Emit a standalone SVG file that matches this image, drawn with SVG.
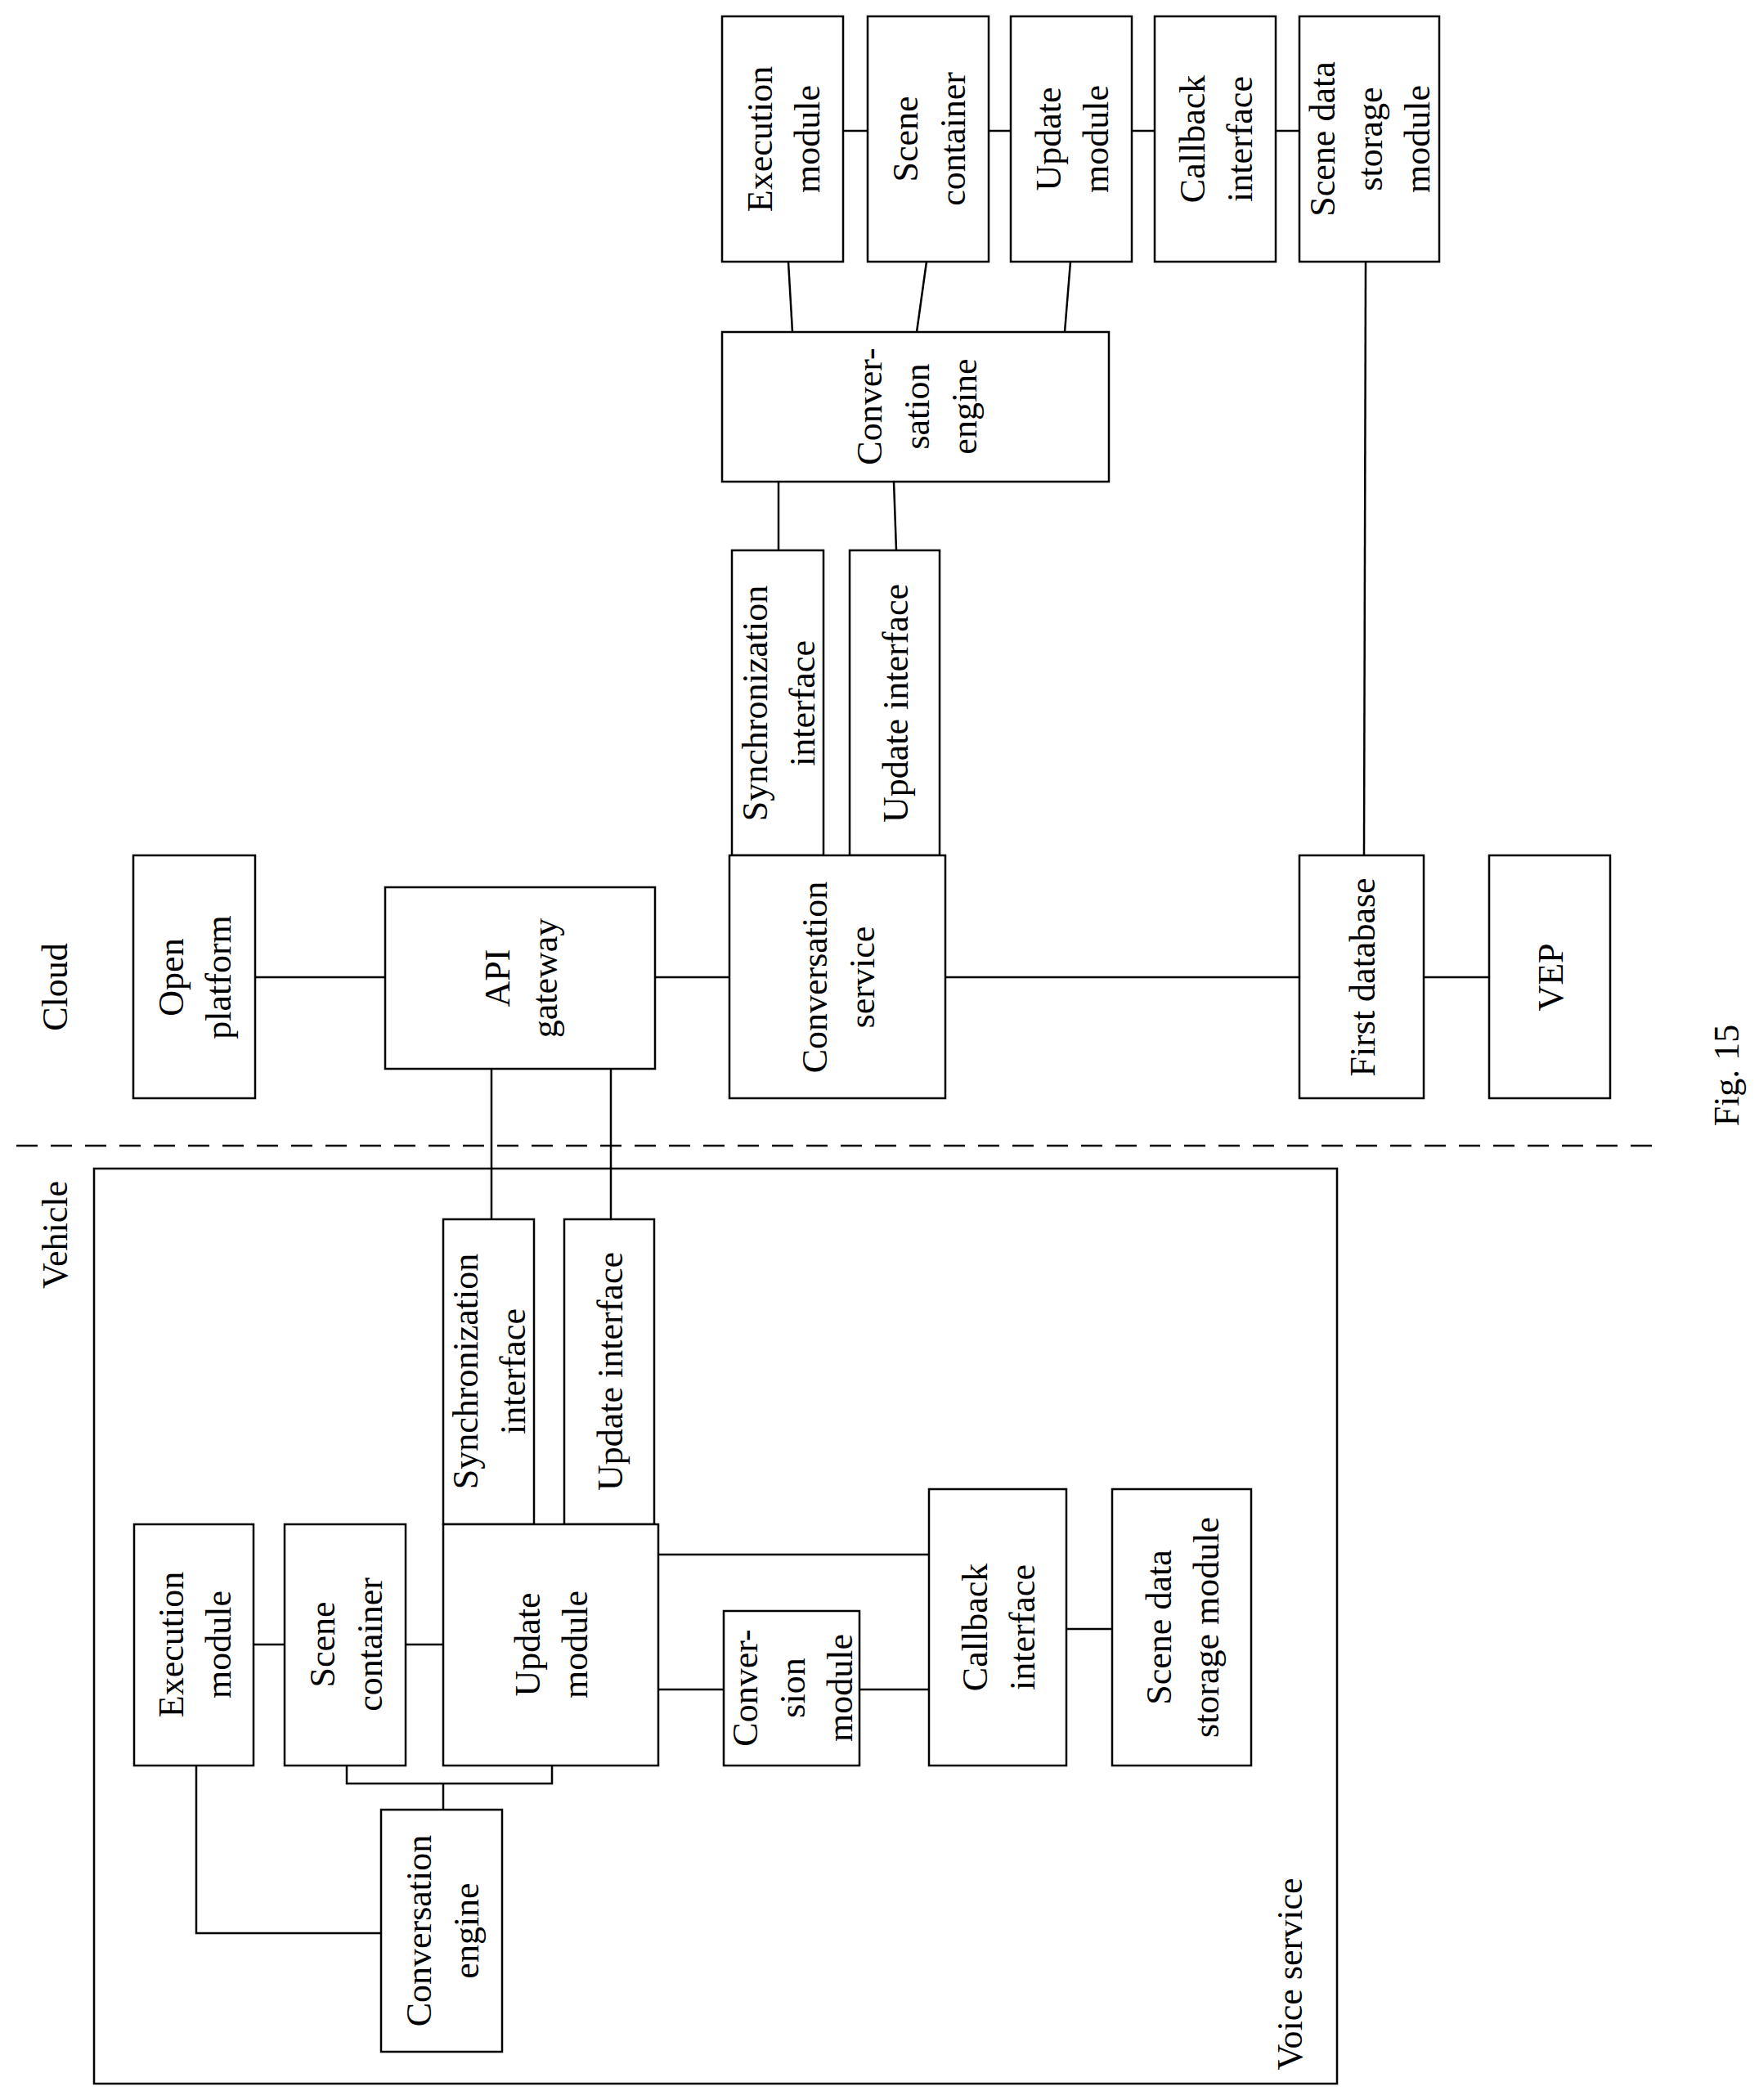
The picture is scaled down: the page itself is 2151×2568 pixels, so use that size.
<svg xmlns="http://www.w3.org/2000/svg" width="2151" height="2568" viewBox="0 0 2151 2568">
<style>
rect{fill:#fff;stroke:#000;stroke-width:2.5}
.c line,.c polyline{stroke:#000;stroke-width:2.5;fill:none}
text{font-family:"Liberation Serif","Times New Roman",serif;font-size:44px;text-anchor:middle;fill:#000}
</style>
<rect x="115" y="1429" width="1520" height="1119"/>
<g class="c">
<line x1="20" y1="1401" x2="2036" y2="1401" stroke-dasharray="26 16"/>
<line x1="1031" y1="160" x2="1061" y2="160"/><line x1="1209" y1="160" x2="1236" y2="160"/><line x1="1384" y1="160" x2="1412" y2="160"/><line x1="1560" y1="160" x2="1589" y2="160"/>
<line x1="964" y1="320" x2="969" y2="406"/><line x1="1133" y1="320" x2="1121" y2="406"/><line x1="1309" y1="320" x2="1302" y2="406"/>
<line x1="952" y1="589" x2="952" y2="673"/><line x1="1093" y1="589" x2="1096" y2="673"/>
<line x1="1670" y1="320" x2="1668" y2="1046"/>
<line x1="312" y1="1195" x2="471" y2="1195"/><line x1="801" y1="1195" x2="892" y2="1195"/><line x1="1156" y1="1195" x2="1589" y2="1195"/><line x1="1741" y1="1195" x2="1821" y2="1195"/>
<line x1="601" y1="1307" x2="601" y2="1491"/><line x1="747" y1="1307" x2="747" y2="1491"/>
<line x1="310" y1="2011" x2="348" y2="2011"/><line x1="496" y1="2011" x2="542" y2="2011"/>
<polyline points="424,2159 424,2181 675,2181 675,2159"/><line x1="542" y1="2181" x2="542" y2="2213"/>
<polyline points="240,2159 240,2364 466,2364"/>
<line x1="805" y1="2066" x2="885" y2="2066"/><line x1="1051" y1="2066" x2="1136" y2="2066"/>
<line x1="805" y1="1901" x2="1136" y2="1901"/><line x1="1304" y1="1992" x2="1360" y2="1992"/>
</g>
<g id="exec-c"><rect x="883" y="20" width="148" height="300"/><text transform="translate(957 170) rotate(-90)"><tspan x="0" y="-13">Execution</tspan><tspan x="0" y="45">module</tspan></text></g>
<g id="scene-c"><rect x="1061" y="20" width="148" height="300"/><text transform="translate(1135 170) rotate(-90)"><tspan x="0" y="-13">Scene</tspan><tspan x="0" y="45">container</tspan></text></g>
<g id="update-c"><rect x="1236" y="20" width="148" height="300"/><text transform="translate(1310 170) rotate(-90)"><tspan x="0" y="-13">Update</tspan><tspan x="0" y="45">module</tspan></text></g>
<g id="callback-c"><rect x="1412" y="20" width="148" height="300"/><text transform="translate(1486 170) rotate(-90)"><tspan x="0" y="-13">Callback</tspan><tspan x="0" y="45">interface</tspan></text></g>
<g id="storage-c"><rect x="1589" y="20" width="171" height="300"/><text transform="translate(1674 170) rotate(-90)"><tspan x="0" y="-42">Scene data</tspan><tspan x="0" y="16">storage</tspan><tspan x="0" y="74">module</tspan></text></g>
<g id="engine-c"><rect x="883" y="406" width="473" height="183"/><text transform="translate(1120 497) rotate(-90)"><tspan x="0" y="-42">Conver-</tspan><tspan x="0" y="16">sation</tspan><tspan x="0" y="74">engine</tspan></text></g>
<g id="sync-c"><rect x="895" y="673" width="112" height="373"/><text transform="translate(951 860) rotate(-90)"><tspan x="0" y="-13">Synchronization</tspan><tspan x="0" y="45">interface</tspan></text></g>
<g id="updif-c"><rect x="1039" y="673" width="110" height="373"/><text transform="translate(1094 860) rotate(-90)" y="16">Update interface</text></g>
<g id="convsvc"><rect x="892" y="1046" width="264" height="297"/><text transform="translate(1024 1195) rotate(-90)"><tspan x="0" y="-13">Conversation</tspan><tspan x="0" y="45">service</tspan></text></g>
<g id="api"><rect x="471" y="1085" width="330" height="222"/><text transform="translate(636 1196) rotate(-90)"><tspan x="0" y="-13">API</tspan><tspan x="0" y="45">gateway</tspan></text></g>
<g id="open"><rect x="163" y="1046" width="149" height="297"/><text transform="translate(237 1195) rotate(-90)"><tspan x="0" y="-13">Open</tspan><tspan x="0" y="45">platform</tspan></text></g>
<g id="firstdb"><rect x="1589" y="1046" width="152" height="297"/><text transform="translate(1665 1195) rotate(-90)" y="16">First database</text></g>
<g id="vep"><rect x="1821" y="1046" width="148" height="297"/><text transform="translate(1895 1195) rotate(-90)" y="16">VEP</text></g>
<text transform="translate(66 1207) rotate(-90)" y="16">Cloud</text>
<text transform="translate(66 1510) rotate(-90)" y="16">Vehicle</text>
<text transform="translate(2110 1315) rotate(-90)" y="16">Fig. 15</text>
<text transform="translate(1576 2414) rotate(-90)" y="16">Voice service</text>
<g id="sync-v"><rect x="542" y="1491" width="111" height="373"/><text transform="translate(597 1677) rotate(-90)"><tspan x="0" y="-13">Synchronization</tspan><tspan x="0" y="45">interface</tspan></text></g>
<g id="updif-v"><rect x="690" y="1491" width="110" height="373"/><text transform="translate(745 1677) rotate(-90)" y="16">Update interface</text></g>
<g id="update-v"><rect x="542" y="1864" width="263" height="295"/><text transform="translate(673 2011) rotate(-90)"><tspan x="0" y="-13">Update</tspan><tspan x="0" y="45">module</tspan></text></g>
<g id="exec-v"><rect x="164" y="1864" width="146" height="295"/><text transform="translate(237 2011) rotate(-90)"><tspan x="0" y="-13">Execution</tspan><tspan x="0" y="45">module</tspan></text></g>
<g id="scene-v"><rect x="348" y="1864" width="148" height="295"/><text transform="translate(422 2011) rotate(-90)"><tspan x="0" y="-13">Scene</tspan><tspan x="0" y="45">container</tspan></text></g>
<g id="engine-v"><rect x="466" y="2213" width="148" height="296"/><text transform="translate(540 2361) rotate(-90)"><tspan x="0" y="-13">Conversation</tspan><tspan x="0" y="45">engine</tspan></text></g>
<g id="conversion"><rect x="885" y="1970" width="166" height="189"/><text transform="translate(968 2064) rotate(-90)"><tspan x="0" y="-42">Conver-</tspan><tspan x="0" y="16">sion</tspan><tspan x="0" y="74">module</tspan></text></g>
<g id="callback-v"><rect x="1136" y="1821" width="168" height="338"/><text transform="translate(1220 1990) rotate(-90)"><tspan x="0" y="-13">Callback</tspan><tspan x="0" y="45">interface</tspan></text></g>
<g id="storage-v"><rect x="1360" y="1821" width="170" height="338"/><text transform="translate(1445 1990) rotate(-90)"><tspan x="0" y="-13">Scene data</tspan><tspan x="0" y="45">storage module</tspan></text></g>
</svg>
